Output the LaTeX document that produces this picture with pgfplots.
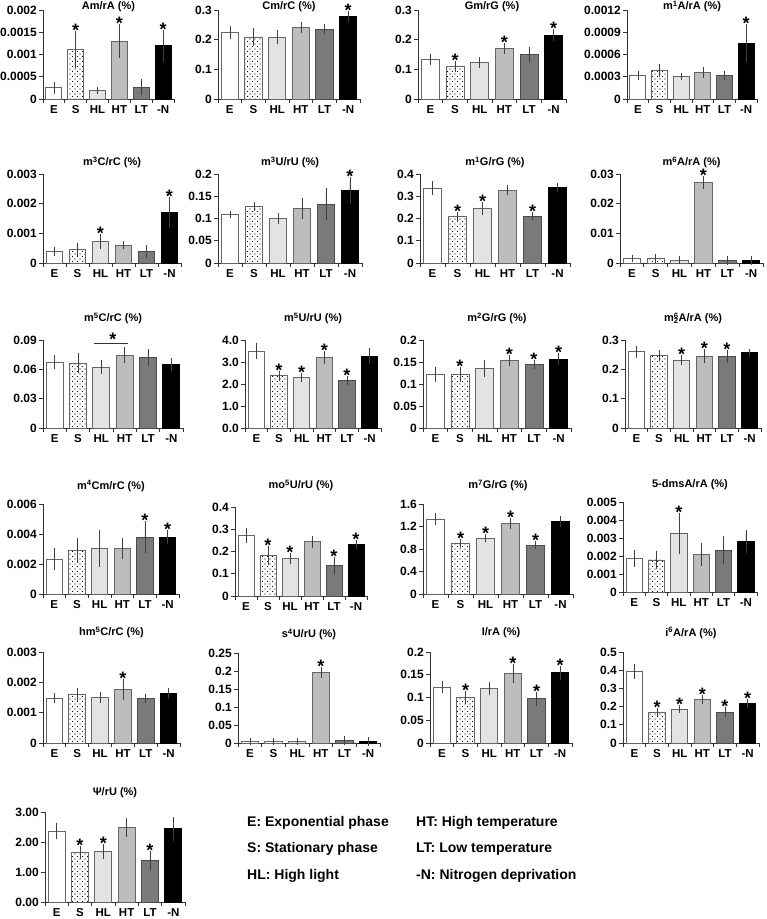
\documentclass[border=0pt]{standalone}
\usepackage{pgfplots}
\pgfplotsset{compat=1.18}
\usepackage{fontspec}
\setmainfont{Liberation Sans}
\usetikzlibrary{patterns}
\pgfdeclarepatternformonly{sdots}{\pgfqpoint{-1pt}{-1pt}}{\pgfqpoint{4pt}{4pt}}{\pgfqpoint{5pt}{5pt}}{%
 \pgfpathcircle{\pgfqpoint{0pt}{0pt}}{0.55pt}%
 \pgfpathcircle{\pgfqpoint{2.5pt}{2.5pt}}{0.55pt}%
 \pgfusepath{fill}}
\definecolor{cHL}{HTML}{E3E3E3}
\definecolor{cHT}{HTML}{BDBDBD}
\definecolor{cLT}{HTML}{7A7A7A}
\tikzset{starnode/.style={font=\bfseries\fontsize{18}{18}\selectfont, anchor=base, inner sep=0pt, yshift=-2pt}}
\pgfplotsset{
 bb/.style={ybar, bar width=0.73, bar shift=0pt, draw=black!60, line width=0.9pt,
   error bars/y dir=both, error bars/y explicit,
   error bars/error bar style={line width=0.6pt, draw=black!75},
   error bars/error mark options={line width=0.6pt, draw=black!75, mark size=3.5pt}},
 cE/.style={bb, fill=white},
 cS/.style={bb, fill=white, postaction={pattern=sdots}},
 cHL/.style={bb, fill=cHL},
 cHT/.style={bb, fill=cHT},
 cLT/.style={bb, fill=cLT, draw=black!70},
 cN/.style={bb, fill=black, draw=black},
 chart/.style={
   scale only axis, anchor=south west, clip=false,
   xmin=-0.5, xmax=5.5, ymin=0, scaled y ticks=false,
   axis x line*=bottom, axis y line*=left,
   axis line style={draw=black!80, line width=0.8pt},
   xtick={-0.5,0.5,...,5.5}, x tick label as interval,
   xticklabels={E,S,HL,HT,LT,-N},
   tick align=outside, major tick length=4pt,
   tick style={draw=black!80, line width=0.8pt},
   /pgf/number format/assume math mode=true,
   xticklabel style={font=\bfseries\fontsize{11.5}{12}\selectfont, inner sep=2pt},
   yticklabel style={font=\bfseries\fontsize{12}{12}\selectfont, inner sep=2pt},
   every axis title/.style={at={(0.5,1)}, anchor=base, inner sep=0pt,
     font=\bfseries\fontsize{11}{11}\selectfont},
 },
 tsh/.style={title style={yshift=#1pt}},
}
\newcommand\B[4]{\addplot[#2] coordinates {(#1,#3) +- (0,#4)};}
\newcommand\st[2]{\node[starnode] at (axis cs:#1,#2) {*};}
\begin{document}
\begin{tikzpicture}[x=1pt,y=1pt]
\useasboundingbox (0,0) rectangle (767,919);
% ---------------- Row 1 ----------------
\begin{axis}[chart, at={(43pt,820pt)}, width=131pt, height=89pt, ymax=0.002,
  ytick={0,0.0005,0.001,0.0015,0.002}, yticklabels={0,0.0005,0.001,0.0015,0.002},
  title={Am/rA (\%)}, tsh=0]
\B{0}{cE}{0.00025}{0.00005}
\B{1}{cS}{0.00111}{0.00033}
\B{2}{cHL}{0.00019}{0.000005}
\B{3}{cHT}{0.0013}{0.0003}
\B{4}{cLT}{0.00026}{0.0001}
\B{5}{cN}{0.0012}{0.00028}
\st{1}{0.00144}\st{3}{0.0016}\st{5}{0.00148}
\end{axis}
\begin{axis}[chart, at={(218pt,820pt)}, width=142pt, height=89pt, ymax=0.3,
  ytick={0,0.1,0.2,0.3}, yticklabels={0,0.1,0.2,0.3},
  title={Cm/rC (\%)}, tsh=0]
\B{0}{cE}{0.224}{0.011}
\B{1}{cS}{0.208}{0.018}
\B{2}{cHL}{0.208}{0.012}
\B{3}{cHT}{0.241}{0.007}
\B{4}{cLT}{0.236}{0.006}
\B{5}{cN}{0.278}{0.006}
\st{5}{0.284}
\end{axis}
\begin{axis}[chart, at={(418pt,820pt)}, width=148pt, height=89pt, ymax=0.3,
  ytick={0,0.1,0.2,0.3}, yticklabels={0,0.1,0.2,0.3},
  title={Gm/rG (\%)}, tsh=0]
\B{0}{cE}{0.133}{0.007}
\B{1}{cS}{0.110}{0.006}
\B{2}{cHL}{0.123}{0.006}
\B{3}{cHT}{0.170}{0.007}
\B{4}{cLT}{0.150}{0.013}
\B{5}{cN}{0.215}{0.009}
\st{1}{0.116}\st{3}{0.177}\st{5}{0.224}
\end{axis}
\begin{axis}[chart, at={(627pt,820pt)}, width=130pt, height=89pt, ymax=0.0012,
  ytick={0,0.0003,0.0006,0.0009,0.0012}, yticklabels={0,0.0003,0.0006,0.0009,0.0012},
  title={m\textsuperscript{1}A/rA (\%)}, tsh=0]
\B{0}{cE}{0.000315}{0.00001}
\B{1}{cS}{0.00038}{0.00004}
\B{2}{cHL}{0.000305}{0.000005}
\B{3}{cHT}{0.00036}{0.00003}
\B{4}{cLT}{0.000315}{0.00001}
\B{5}{cN}{0.00075}{0.00021}
\st{5}{0.00096}
\end{axis}
% ---------------- Row 2 ----------------
\begin{axis}[chart, at={(43pt,656pt)}, width=138pt, height=89pt, ymax=0.003,
  ytick={0,0.001,0.002,0.003}, yticklabels={0,0.001,0.002,0.003},
  title={m\textsuperscript{3}C/rC (\%)}, tsh=8]
\B{0}{cE}{0.00038}{0.00004}
\B{1}{cS}{0.00046}{0.0001}
\B{2}{cHL}{0.00072}{0.00013}
\B{3}{cHT}{0.0006}{0.00002}
\B{4}{cLT}{0.00039}{0.0001}
\B{5}{cN}{0.0017}{0.0004}
\st{2}{0.00085}\st{5}{0.0021}
\end{axis}
\begin{axis}[chart, at={(218pt,656pt)}, width=144pt, height=89pt, ymax=0.2,
  ytick={0,0.05,0.1,0.15,0.2}, yticklabels={0,0.05,0.1,0.15,0.2},
  title={m\textsuperscript{3}U/rU (\%)}, tsh=8]
\B{0}{cE}{0.109}{0.001}
\B{1}{cS}{0.127}{0.003}
\B{2}{cHL}{0.100}{0.005}
\B{3}{cHT}{0.122}{0.016}
\B{4}{cLT}{0.132}{0.028}
\B{5}{cN}{0.163}{0.022}
\st{5}{0.185}
\end{axis}
\begin{axis}[chart, at={(420pt,656pt)}, width=150pt, height=89pt, ymax=0.4,
  ytick={0,0.1,0.2,0.3,0.4}, yticklabels={0,0.1,0.2,0.3,0.4},
  title={m\textsuperscript{1}G/rG (\%)}, tsh=8]
\B{0}{cE}{0.337}{0.015}
\B{1}{cS}{0.207}{0.007}
\B{2}{cHL}{0.245}{0.012}
\B{3}{cHT}{0.328}{0.008}
\B{4}{cLT}{0.210}{0.003}
\B{5}{cN}{0.340}{0.003}
\st{1}{0.214}\st{2}{0.257}\st{4}{0.213}
\end{axis}
\begin{axis}[chart, at={(620pt,656pt)}, width=143pt, height=89pt, ymax=0.03,
  ytick={0,0.01,0.02,0.03}, yticklabels={0,0.01,0.02,0.03},
  title={m\textsuperscript{6}A/rA (\%)}, tsh=8]
\B{0}{cE}{0.0015}{0.0001}
\B{1}{cS}{0.0015}{0.0004}
\B{2}{cHL}{0.0009}{0.0002}
\B{3}{cHT}{0.0272}{0.0011}
\B{4}{cLT}{0.0009}{0.0003}
\B{5}{cN}{0.0009}{0.0003}
\st{3}{0.0283}
\end{axis}
% ---------------- Row 3 ----------------
\begin{axis}[chart, at={(43pt,491pt)}, width=140pt, height=88pt, ymax=0.09,
  ytick={0,0.03,0.06,0.09}, yticklabels={0,0.03,0.06,0.09},
  title={m\textsuperscript{5}C/rC (\%)}, tsh=18]
\B{0}{cE}{0.0675}{0.0035}
\B{1}{cS}{0.0665}{0.0065}
\B{2}{cHL}{0.062}{0.0035}
\B{3}{cHT}{0.0745}{0.0045}
\B{4}{cLT}{0.072}{0.005}
\B{5}{cN}{0.065}{0.0035}
\draw[black!80, line width=0.9pt] (axis cs:1.68,0.0865) -- (axis cs:3.14,0.0865);
\st{2.5}{0.0865}
\end{axis}
\begin{axis}[chart, at={(245pt,491pt)}, width=136pt, height=88pt, ymax=4,
  ytick={0,1,2,3,4}, yticklabels={0.0,1.0,2.0,3.0,4.0},
  title={m\textsuperscript{5}U/rU (\%)}, tsh=18]
\B{0}{cE}{3.5}{0.2}
\B{1}{cS}{2.37}{0.07}
\B{2}{cHL}{2.28}{0.05}
\B{3}{cHT}{3.2}{0.12}
\B{4}{cLT}{2.15}{0.04}
\B{5}{cN}{3.27}{0.22}
\st{1}{2.44}\st{2}{2.33}\st{3}{3.32}\st{4}{2.19}
\end{axis}
\begin{axis}[chart, at={(423pt,491pt)}, width=148pt, height=88pt, ymax=0.2,
  ytick={0,0.05,0.1,0.15,0.2}, yticklabels={0,0.05,0.1,0.15,0.2},
  title={m\textsuperscript{2}G/rG (\%)}, tsh=18]
\B{0}{cE}{0.122}{0.009}
\B{1}{cS}{0.122}{0.009}
\B{2}{cHL}{0.135}{0.012}
\B{3}{cHT}{0.154}{0.005}
\B{4}{cLT}{0.144}{0.003}
\B{5}{cN}{0.156}{0.006}
\st{1}{0.131}\st{3}{0.159}\st{4}{0.147}\st{5}{0.162}
\end{axis}
\begin{axis}[chart, at={(625pt,491pt)}, width=136pt, height=88pt, ymax=0.3,
  ytick={0,0.1,0.2,0.3}, yticklabels={0,0.1,0.2,0.3},
  title={m\rlap{\textsuperscript{6}}\textsubscript{2}A/rA (\%)}, tsh=18]
\B{0}{cE}{0.26}{0.008}
\B{1}{cS}{0.248}{0.006}
\B{2}{cHL}{0.231}{0.005}
\B{3}{cHT}{0.245}{0.012}
\B{4}{cLT}{0.244}{0.009}
\B{5}{cN}{0.256}{0.003}
\st{2}{0.236}\st{3}{0.257}\st{4}{0.253}
\end{axis}
% ---------------- Row 4 ----------------
\begin{axis}[chart, at={(43pt,325pt)}, width=136pt, height=90pt, ymax=0.006,
  ytick={0,0.002,0.004,0.006}, yticklabels={0,0.002,0.004,0.006},
  title={m\textsuperscript{4}Cm/rC (\%)}, tsh=15]
\B{0}{cE}{0.00233}{0.00048}
\B{1}{cS}{0.0029}{0.00057}
\B{2}{cHL}{0.00305}{0.001}
\B{3}{cHT}{0.00305}{0.00048}
\B{4}{cLT}{0.0038}{0.00083}
\B{5}{cN}{0.0038}{0.00025}
\st{4}{0.00463}\st{5}{0.00405}
\end{axis}
\begin{axis}[chart, at={(235pt,323pt)}, width=132pt, height=89pt, ymax=0.4,
  ytick={0,0.1,0.2,0.3,0.4}, yticklabels={0,0.1,0.2,0.3,0.4},
  title={mo\textsuperscript{5}U/rU (\%)}, tsh=18]
\B{0}{cE}{0.27}{0.018}
\B{1}{cS}{0.18}{0.027}
\B{2}{cHL}{0.168}{0.01}
\B{3}{cHT}{0.243}{0.012}
\B{4}{cLT}{0.137}{0.023}
\B{5}{cN}{0.232}{0.003}
\st{1}{0.207}\st{2}{0.178}\st{4}{0.16}\st{5}{0.235}
\end{axis}
\begin{axis}[chart, at={(423pt,325pt)}, width=150pt, height=90pt, ymax=1.6,
  ytick={0,0.4,0.8,1.2,1.6}, yticklabels={0,0.4,0.8,1.2,1.6},
  title={m\textsuperscript{7}G/rG (\%)}, tsh=15]
\B{0}{cE}{1.33}{0.05}
\B{1}{cS}{0.90}{0.02}
\B{2}{cHL}{0.99}{0.01}
\B{3}{cHT}{1.25}{0.03}
\B{4}{cLT}{0.87}{0.01}
\B{5}{cN}{1.29}{0.03}
\st{1}{0.92}\st{2}{1.0}\st{3}{1.28}\st{4}{0.88}
\end{axis}
\begin{axis}[chart, at={(623pt,327pt)}, width=134pt, height=90pt, ymax=0.005,
  ytick={0,0.001,0.002,0.003,0.004,0.005}, yticklabels={0,0.001,0.002,0.003,0.004,0.005},
  title={5-dmsA/rA (\%)}, tsh=15]
\B{0}{cE}{0.00188}{0.00027}
\B{1}{cS}{0.00178}{0.0003}
\B{2}{cHL}{0.00325}{0.00097}
\B{3}{cHT}{0.0021}{0.00045}
\B{4}{cLT}{0.00233}{0.0006}
\B{5}{cN}{0.0028}{0.00045}
\st{2}{0.00422}
\end{axis}
% ---------------- Row 5 ----------------
\begin{axis}[chart, at={(43pt,176pt)}, width=137pt, height=91pt, ymax=0.003,
  ytick={0,0.001,0.002,0.003}, yticklabels={0,0.001,0.002,0.003},
  title={hm\textsuperscript{5}C/rC (\%)}, tsh=16]
\B{0}{cE}{0.00148}{0.00005}
\B{1}{cS}{0.0016}{0.0001}
\B{2}{cHL}{0.00149}{0.00007}
\B{3}{cHT}{0.00176}{0.00022}
\B{4}{cLT}{0.00148}{0.00003}
\B{5}{cN}{0.00163}{0.00007}
\st{3}{0.00198}
\end{axis}
\begin{axis}[chart, at={(238pt,176pt)}, width=142pt, height=90pt, ymax=0.25,
  ytick={0,0.05,0.1,0.15,0.2,0.25}, yticklabels={0,0.05,0.1,0.15,0.2,0.25},
  title={s\textsuperscript{4}U/rU (\%)}, tsh=15]
\B{0}{cE}{0.004}{0.0005}
\B{1}{cS}{0.004}{0.0005}
\B{2}{cHL}{0.004}{0.0005}
\B{3}{cHT}{0.196}{0.005}
\B{4}{cLT}{0.007}{0.004}
\B{5}{cN}{0.004}{0.002}
\st{3}{0.201}
\end{axis}
\begin{axis}[chart, at={(430pt,176pt)}, width=142pt, height=91pt, ymax=0.2,
  ytick={0,0.05,0.1,0.15,0.2}, yticklabels={0,0.05,0.1,0.15,0.2},
  title={I/rA (\%)}, tsh=16]
\B{0}{cE}{0.123}{0.006}
\B{1}{cS}{0.100}{0.006}
\B{2}{cHL}{0.120}{0.007}
\B{3}{cHT}{0.153}{0.014}
\B{4}{cLT}{0.097}{0.007}
\B{5}{cN}{0.154}{0.007}
\st{1}{0.106}\st{3}{0.167}\st{4}{0.104}\st{5}{0.161}
\end{axis}
\begin{axis}[chart, at={(623pt,176pt)}, width=136pt, height=91pt, ymax=0.5,
  ytick={0,0.1,0.2,0.3,0.4,0.5}, yticklabels={0,0.1,0.2,0.3,0.4,0.5},
  title={i\textsuperscript{6}A/rA (\%)}, tsh=16]
\B{0}{cE}{0.393}{0.02}
\B{1}{cS}{0.170}{0.005}
\B{2}{cHL}{0.185}{0.003}
\B{3}{cHT}{0.241}{0.005}
\B{4}{cLT}{0.170}{0.008}
\B{5}{cN}{0.215}{0.005}
\st{1}{0.175}\st{2}{0.188}\st{3}{0.246}\st{4}{0.178}\st{5}{0.22}
\end{axis}
% ---------------- Row 6 ----------------
\begin{axis}[chart, at={(45pt,17pt)}, width=140pt, height=90pt, ymax=3,
  ytick={0,1,2,3}, yticklabels={0.00,1.00,2.00,3.00},
  title={Ψ/rU (\%)}, tsh=16]
\B{0}{cE}{2.36}{0.16}
\B{1}{cS}{1.65}{0.11}
\B{2}{cHL}{1.68}{0.14}
\B{3}{cHT}{2.48}{0.19}
\B{4}{cLT}{1.37}{0.20}
\B{5}{cN}{2.44}{0.28}
\st{1}{1.76}\st{2}{1.82}\st{4}{1.57}
\end{axis}
% legend text
\begin{scope}[every node/.style={anchor=base west, inner sep=0pt, font=\bfseries\fontsize{14}{14}\selectfont}]
\node at (247,92) {E: Exponential phase};
\node at (247,66) {S: Stationary phase};
\node at (247,39) {HL: High light};
\node at (416,92) {HT: High temperature};
\node at (416,66) {LT: Low temperature};
\node at (416,39) {-N: Nitrogen deprivation};
\end{scope}
\end{tikzpicture}
\end{document}
